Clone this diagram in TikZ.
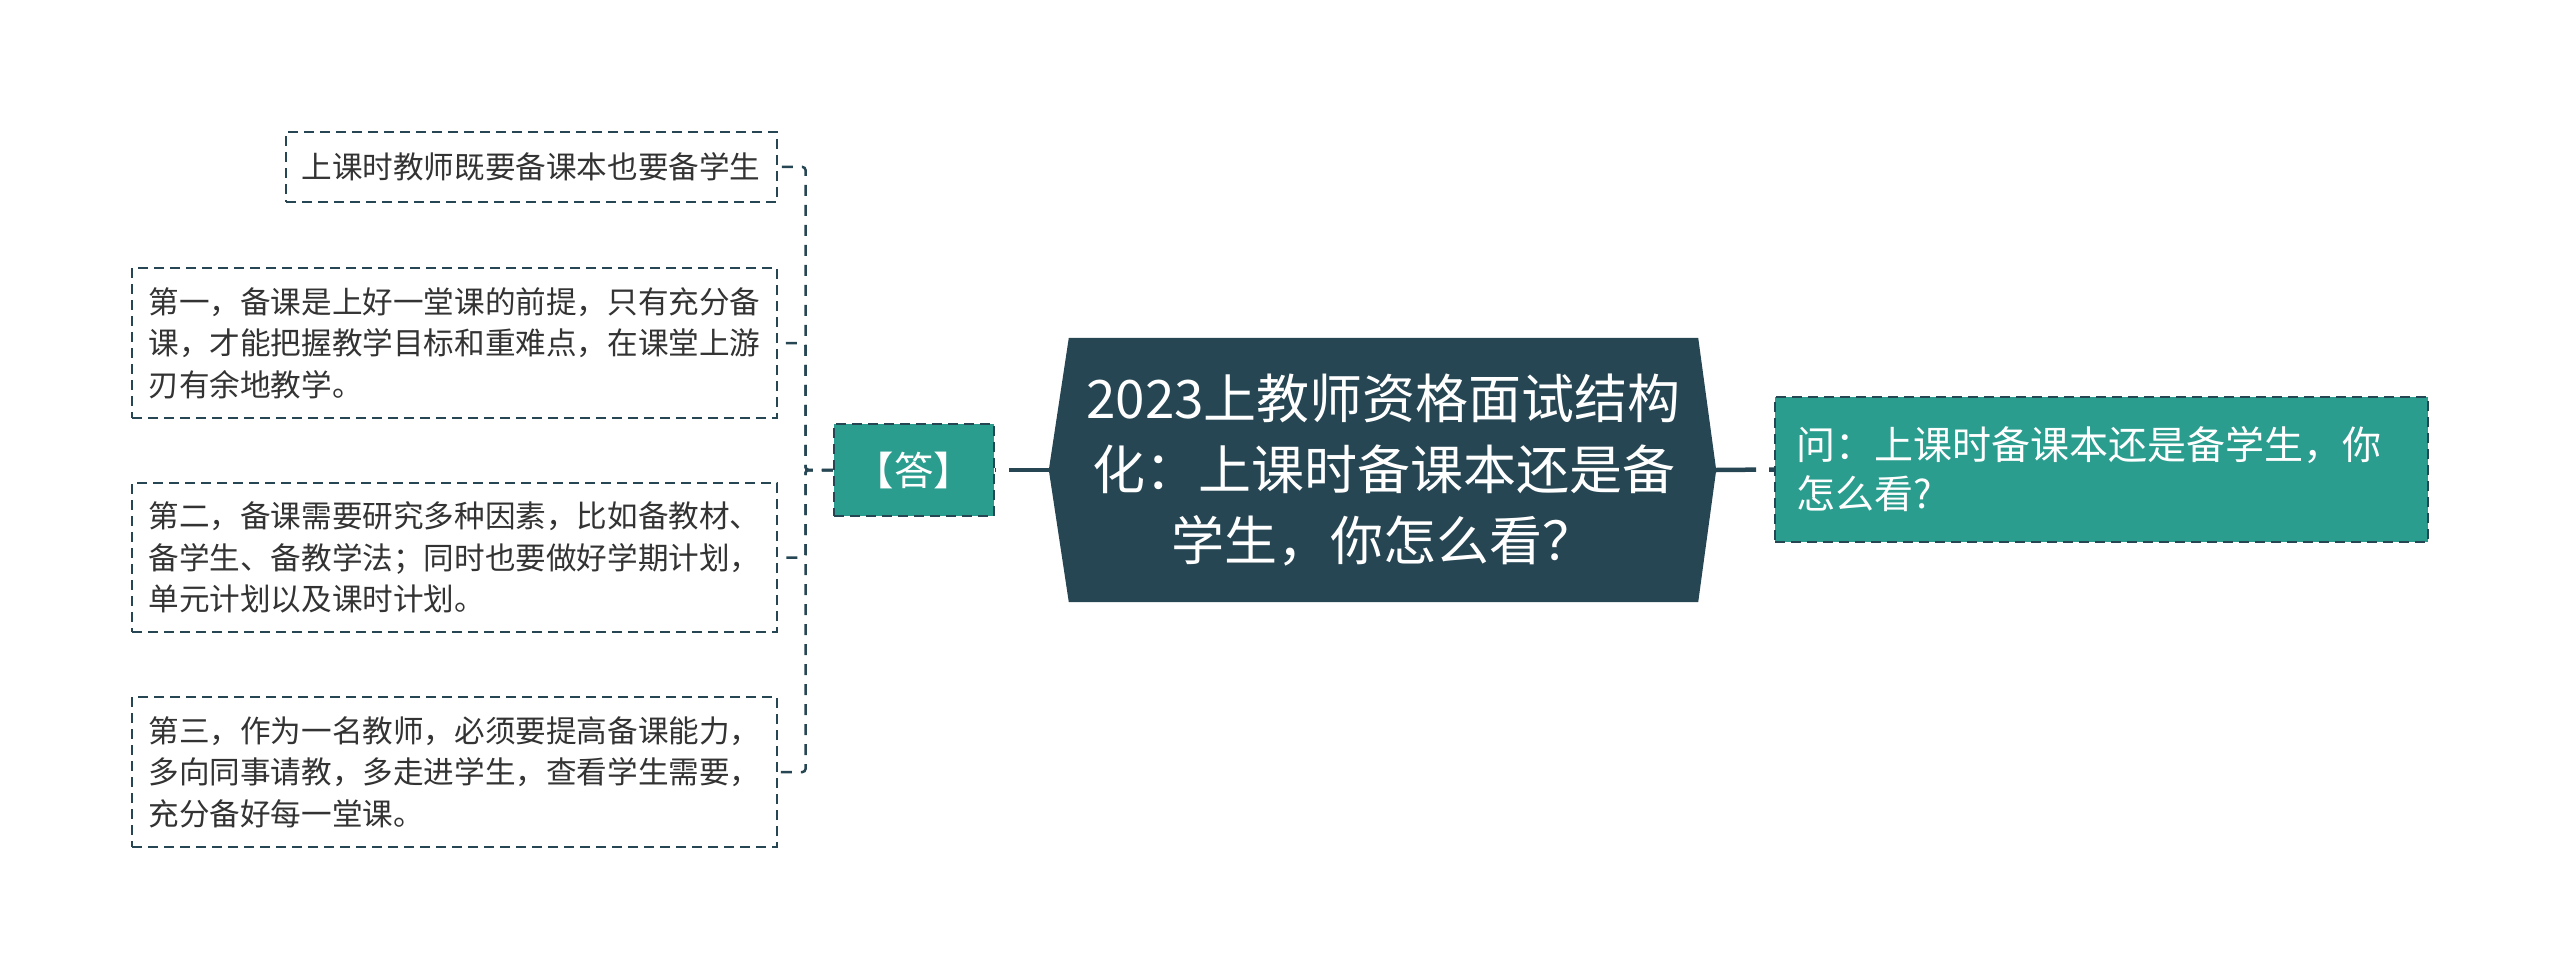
\documentclass[tikz,border=0pt]{standalone}
\usepackage{fontspec}
\setmainfont{Noto Sans CJK SC}
\definecolor{dk}{HTML}{264653}
\definecolor{tl}{HTML}{2A9D8F}
\definecolor{txt}{HTML}{333333}
\tikzset{
  leaf/.style={draw=dk, line width=2.5pt, dash pattern=on 10pt off 6pt, fill=white, text=txt,
    font=\fontsize{30.6}{41.6}\selectfont, align=left, inner ysep=0pt},
  tealbox/.style={draw=dk, line width=2.5pt, dash pattern=on 10pt off 6pt, fill=tl, text=white, inner sep=0pt},
  mainline/.style={draw=dk, line width=4.5pt, dash pattern=on 40pt off 13pt},
  branch/.style={draw=dk, line width=2.5pt, dash pattern=on 11pt off 9pt, rounded corners=3pt}
}
\begin{document}
\begin{tikzpicture}[x=1pt,y=-1pt]
\useasboundingbox (0,0) rectangle (2560,979);
% centre node
\node[minimum width=629pt, minimum height=264pt, inner sep=0pt] (c) at (1383.5,470) {};
\coordinate (cl) at ([xshift=-20pt]c.west);
\coordinate (cr) at ([xshift=18pt]c.east);
\fill[dk] (c.north west) -- (c.north east) -- (cr) -- (c.south east) -- (c.south west) -- (cl) -- cycle;
\node[text=white, align=center, font=\fontsize{53}{71}\selectfont, inner sep=0pt] (ctext) at (c) {2023上教师资格面试结构\\化：上课时备课本还是备\\学生，你怎么看？};
% right node
\node[tealbox, text width=611pt, inner xsep=21pt, minimum height=145pt, align=left,
  font=\fontsize{39}{49}\selectfont] (q) at (2101.5,469.5) {问：上课时备课本还是备学生，你\\怎么看?};
% answer node
\node[tealbox, minimum width=160pt, minimum height=92pt, font=\fontsize{39.5}{49}\selectfont] (ans) at (914,470) {【答】};
% leaves
\node[leaf, text width=460pt, inner xsep=15.5pt, minimum height=70pt] (l1) at (531.5,167) {上课时教师既要备课本也要备学生};
\node[leaf, text width=612pt, inner xsep=16.5pt, minimum height=150pt] (l2) at (454.5,343) {第一，备课是上好一堂课的前提，只有充分备\\课，才能把握教学目标和重难点，在课堂上游\\刃有余地教学。};
\node[leaf, text width=612pt, inner xsep=16.5pt, minimum height=149pt] (l3) at (454.5,557.5) {第二，备课需要研究多种因素，比如备教材、\\备学生、备教学法；同时也要做好学期计划，\\单元计划以及课时计划。};
\node[leaf, text width=612pt, inner xsep=16.5pt, minimum height=150pt] (l4) at (454.5,772) {第三，作为一名教师，必须要提高备课能力，\\多向同事请教，多走进学生，查看学生需要，\\充分备好每一堂课。};
% connectors
\draw[mainline] (cr) -- (q.west);
\draw[mainline] (cl) -- (ans.east);
\coordinate (sp) at (805.5,470);
\draw[branch] (ans.west) -- (sp) |- (l1.east);
\draw[branch] (ans.west) -- (sp) |- (l2.east);
\draw[branch] (ans.west) -- (sp) |- (l3.east);
\draw[branch] (ans.west) -- (sp) |- (l4.east);
\end{tikzpicture}
\end{document}
